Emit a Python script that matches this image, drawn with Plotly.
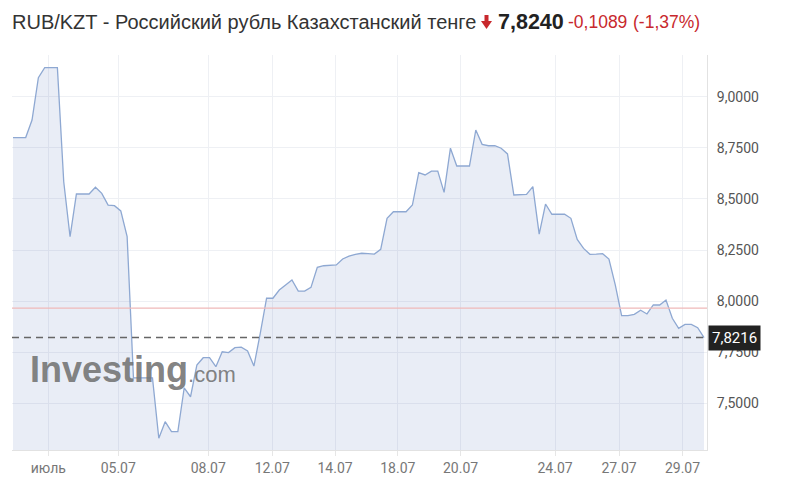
import plotly.graph_objects as go

# ---------------- data ----------------
rates = [
    8.800, 8.800, 8.800, 8.886, 9.093, 9.142, 9.142, 9.142, 8.584, 8.315,
    8.524, 8.524, 8.524, 8.557, 8.527, 8.470, 8.467, 8.441, 8.315, 7.624,
    7.624, 7.624, 7.624, 7.329, 7.410, 7.361, 7.361, 7.575, 7.532, 7.687,
    7.723, 7.723, 7.679, 7.752, 7.748, 7.772, 7.775, 7.756, 7.682, 7.842,
    8.014, 8.014, 8.054, 8.079, 8.103, 8.049, 8.049, 8.067, 8.165, 8.173,
    8.175, 8.177, 8.206, 8.220, 8.229, 8.234, 8.232, 8.230, 8.253, 8.405,
    8.437, 8.437, 8.437, 8.470, 8.628, 8.617, 8.636, 8.636, 8.532, 8.748,
    8.661, 8.661, 8.661, 8.837, 8.767, 8.760, 8.760, 8.748, 8.720, 8.519,
    8.520, 8.522, 8.560, 8.328, 8.475, 8.425, 8.425, 8.425, 8.405, 8.302,
    8.258, 8.229, 8.230, 8.232, 8.206, 8.079, 7.929, 7.929, 7.935, 7.955,
    7.937, 7.981, 7.981, 8.005, 7.916, 7.867, 7.886, 7.886, 7.870, 7.8216,
]
x_labels = ["июль", "05.07", "08.07", "12.07", "14.07", "18.07", "20.07", "24.07", "27.07", "29.07"]
x_label_index = [5.57, 16.6, 30.8, 40.9, 50.8, 60.7, 70.6, 85.5, 95.6, 105.6]
y_ticks = [7.5, 7.75, 8.0, 8.25, 8.5, 8.75, 9.0]
last_price = 7.8216
reference_level = 7.966
title_text = "RUB/KZT - Российский рубль Казахстанский тенге"
price_text = "7,8240"
change_text = "-0,1089"
pct_text = "(-1,37%)"

# ---------------- figure ----------------
OFF = 8                      # page body margin
W, H = 789 - OFF, 485 - OFF
PLOT_L, PLOT_R, PLOT_T, PLOT_B = 12, 707, 55, 450   # in page pixels
L, R, T, B = PLOT_L - OFF, W - (PLOT_R - OFF), PLOT_T - OFF, H - (PLOT_B - OFF)
PW, PH = W - L - R, H - T - B


def px(x):
    return (x - OFF - L) / PW


def py(y):
    return (H - B - (y - OFF)) / PH


def fmt(v):
    return f"{v:.4f}".replace(".", ",")


idx = list(range(len(rates)))
fig = go.Figure()
fig.add_trace(go.Scatter(
    x=idx, y=rates, mode="lines",
    line=dict(color="#8ea8d2", width=1.3),
    fill="tozeroy", fillcolor="rgba(70,110,180,0.12)",
    hoverinfo="skip", showlegend=False,
))

red = "#c8282d"
shapes = [
    dict(type="line", xref="paper", yref="y", x0=0, x1=1,
         y0=reference_level, y1=reference_level,
         line=dict(color="#efb9b9", width=1.2), layer="above"),
    dict(type="line", xref="paper", yref="y", x0=0, x1=1,
         y0=last_price, y1=last_price,
         line=dict(color="#666666", width=1.5, dash="7px,5px"), layer="above"),
    # red down arrow in the header
    dict(type="path", xref="paper", yref="paper",
         path=(f"M {px(484.5)} {py(15)} L {px(488.5)} {py(15)} L {px(488.5)} {py(21)} "
               f"L {px(492)} {py(21)} L {px(486.5)} {py(29)} L {px(481)} {py(21)} "
               f"L {px(484.5)} {py(21)} Z"),
         fillcolor=red, line=dict(width=0)),
]

annotations = [
    dict(xref="paper", yref="paper", x=px(10), y=py(22), xanchor="left", yanchor="middle",
         text=title_text, showarrow=False,
         font=dict(family="Liberation Sans, Arial", size=20, color="#333333")),
    dict(xref="paper", yref="paper", x=px(496), y=py(22), xanchor="left", yanchor="middle",
         text=f"<b>{price_text}</b>", showarrow=False,
         font=dict(family="Liberation Sans, Arial", size=21.5, color="#222222")),
    dict(xref="paper", yref="paper", x=px(566), y=py(22), xanchor="left", yanchor="middle",
         text=change_text, showarrow=False,
         font=dict(family="Liberation Sans, Arial", size=17.5, color=red)),
    dict(xref="paper", yref="paper", x=px(631), y=py(22), xanchor="left", yanchor="middle",
         text=pct_text, showarrow=False,
         font=dict(family="Liberation Sans, Arial", size=17.5, color=red)),
    # last price label
    dict(xref="paper", yref="y", x=1, y=last_price, xanchor="left", yanchor="middle",
         xshift=1, text=fmt(last_price), showarrow=False, bgcolor="#222222",
         borderpad=3, font=dict(family="Roboto", size=15, color="#ffffff")),
    # watermark
    dict(xref="paper", yref="paper", x=px(28), y=py(369), xanchor="left", yanchor="middle",
         text="<b>Investing</b><span style='font-size:22px'>.com</span>", showarrow=False,
         font=dict(family="Liberation Sans, Arial", size=36, color="rgba(115,115,115,0.9)")),
]

fig.update_layout(
    width=W, height=H,
    margin=dict(l=L, r=R, t=T, b=B, pad=0),
    paper_bgcolor="#ffffff", plot_bgcolor="#ffffff",
    shapes=shapes, annotations=annotations,
    xaxis=dict(
        range=[-0.16, 109.47], tickmode="array", tickvals=x_label_index, ticktext=x_labels,
        showgrid=True, gridcolor="#eef0f4", gridwidth=1, zeroline=False,
        showline=True, linecolor="#e2e2e2", ticks="outside", ticklen=5, tickcolor="#e6e6e6",
        tickfont=dict(family="Roboto", size=14, color="#777777"), fixedrange=True,
    ),
    yaxis=dict(
        side="right", range=[7.2715, 9.204], tickmode="array", tickvals=y_ticks,
        ticktext=[fmt(v) for v in y_ticks],
        showgrid=True, gridcolor="#eef0f4", gridwidth=1, zeroline=False,
        showline=True, linecolor="#e2e2e2", ticks="outside", ticklen=6,
        tickcolor="rgba(0,0,0,0)",
        tickfont=dict(family="Roboto", size=14, color="#555555"), fixedrange=True,
    ),
)

fig.write_html("out.html")
